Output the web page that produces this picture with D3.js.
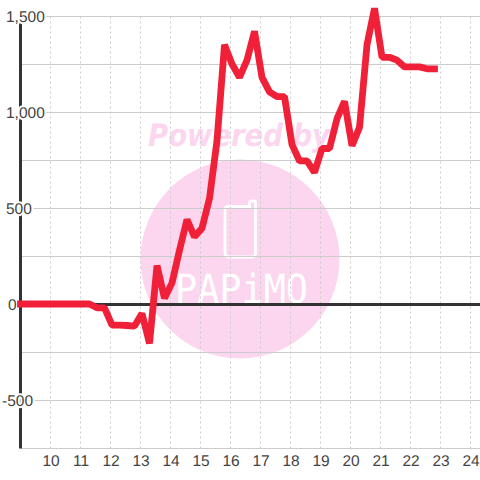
<!DOCTYPE html>
<html><head><meta charset="utf-8">
<script src="https://cdn.jsdelivr.net/npm/d3@7/dist/d3.min.js"></script>
<style>html,body{margin:0;padding:0;background:#fff}svg{display:block}text{text-rendering:geometricPrecision}</style>
</head><body><svg id="c" width="480" height="480"></svg>
<script>
const times = [9,9.25,9.5,9.75,10,10.25,10.5,10.75,11,11.3,11.55,11.8,12.05,12.3,12.55,12.8,13.05,13.3,13.55,13.8,14.05,14.3,14.55,14.8,15.05,15.3,15.55,15.8,16.05,16.3,16.55,16.8,17.05,17.3,17.55,17.8,18.05,18.3,18.55,18.8,19.05,19.3,19.55,19.8,20.05,20.3,20.55,20.8,21.05,21.3,21.55,21.8,22.05,22.3,22.55,22.8];
const values = [0,0,0,0,0,0,0,0,0,0,-20,-20,-110,-110,-112,-115,-50,-205,200,30,110,280,440,350,395,550,850,1350,1250,1180,1270,1420,1180,1105,1080,1080,830,745,745,685,810,810,965,1055,825,920,1350,1540,1285,1285,1270,1235,1235,1235,1225,1225];
const yMajor = [1500,1000,500,0,-500];
const yMinor = [1250,750,250,-250,-750];
const xTicks = [10,11,12,13,14,15,16,17,18,19,20,21,22,23,24];
const watermarkTop = "Powered by";
const watermarkBrand = "PAPiMO";

const svg = d3.select("#c");
const x = d3.scaleLinear().domain([9,24]).range([20.5,470.5]);
const y = d3.scaleLinear().domain([1500,-750]).range([16.5,448.5]);
const pink = "#fcd6ee";

// watermark
svg.append("circle").attr("cx",240).attr("cy",259).attr("r",99.5).attr("fill",pink);
svg.append("text").text(watermarkTop).attr("x",148).attr("y",146)
  .attr("font-family","DejaVu Sans").attr("font-weight","bold")
  .attr("font-style","italic").attr("font-size",31).attr("fill",pink)
  .attr("textLength",182).attr("lengthAdjust","spacingAndGlyphs");
svg.append("path")
  .attr("d","M228,206.5H249.5V203Q249.5,201 252,201H254Q255.5,201 255.5,203V253Q255.5,257 251.5,257H229Q225,257 225,253V210Q225,206.5 228,206.5Z")
  .attr("fill","none").attr("stroke","#fff").attr("stroke-width",2.8);
svg.append("text").text(watermarkBrand).attr("x",175).attr("y",303)
  .attr("font-family","DejaVu Sans Mono").attr("font-size",40)
  .attr("textLength",133).attr("lengthAdjust","spacingAndGlyphs")
  .attr("fill","#fff");

// grid
const grid = svg.append("g");
grid.selectAll("line.v").data(xTicks).join("line").attr("class","v")
  .attr("x1",d=>x(d)).attr("x2",d=>x(d)).attr("y1",y(1500)).attr("y2",y(-750))
  .attr("stroke","#ccc").attr("stroke-dasharray","2,3");
grid.selectAll("line.h").data(yMajor.concat(yMinor).filter(d=>d!==0)).join("line").attr("class","h")
  .attr("x1",x(9)).attr("x2",480).attr("y1",d=>y(d)).attr("y2",d=>y(d))
  .attr("stroke","#ccc");

// axes
svg.append("line").attr("x1",x(9)).attr("x2",x(9)).attr("y1",y(1500)).attr("y2",y(-750))
  .attr("stroke","#333").attr("stroke-width",3);
svg.append("line").attr("x1",x(9)).attr("x2",480).attr("y1",y(0)).attr("y2",y(0))
  .attr("stroke","#333").attr("stroke-width",3);

// y labels
const fmt = d => d3.format(",")(d).replace("\u2212","-");
const yg = svg.append("g").attr("font-family","Liberation Sans").attr("font-size",15.5).attr("fill","#444");
const leftOf = d => d===0 ? 8 : d<0 ? 2 : 6;
yg.selectAll("text").data(yMajor).join("text").text(d=>fmt(d))
  .attr("x",leftOf).attr("y",d=>y(d)+5.5)
  .attr("stroke","#fff").attr("stroke-width",4).attr("paint-order","stroke").attr("stroke-linejoin","round");

// x labels
svg.append("g").attr("font-family","Liberation Sans").attr("font-size",15.5).attr("fill","#444")
  .selectAll("text").data(xTicks).join("text").text(d=>d)
  .attr("x",d=>x(d)+.5).attr("y",466).attr("text-anchor","middle");

// series
const line = d3.line().x((d,i)=>x(times[i])).y(d=>y(d)-.5);
svg.append("path").attr("d",line(values)).attr("fill","none").attr("stroke","#f02038")
  .attr("stroke-width",6.8).attr("stroke-linecap","square").attr("stroke-linejoin","bevel");
</script></body></html>
